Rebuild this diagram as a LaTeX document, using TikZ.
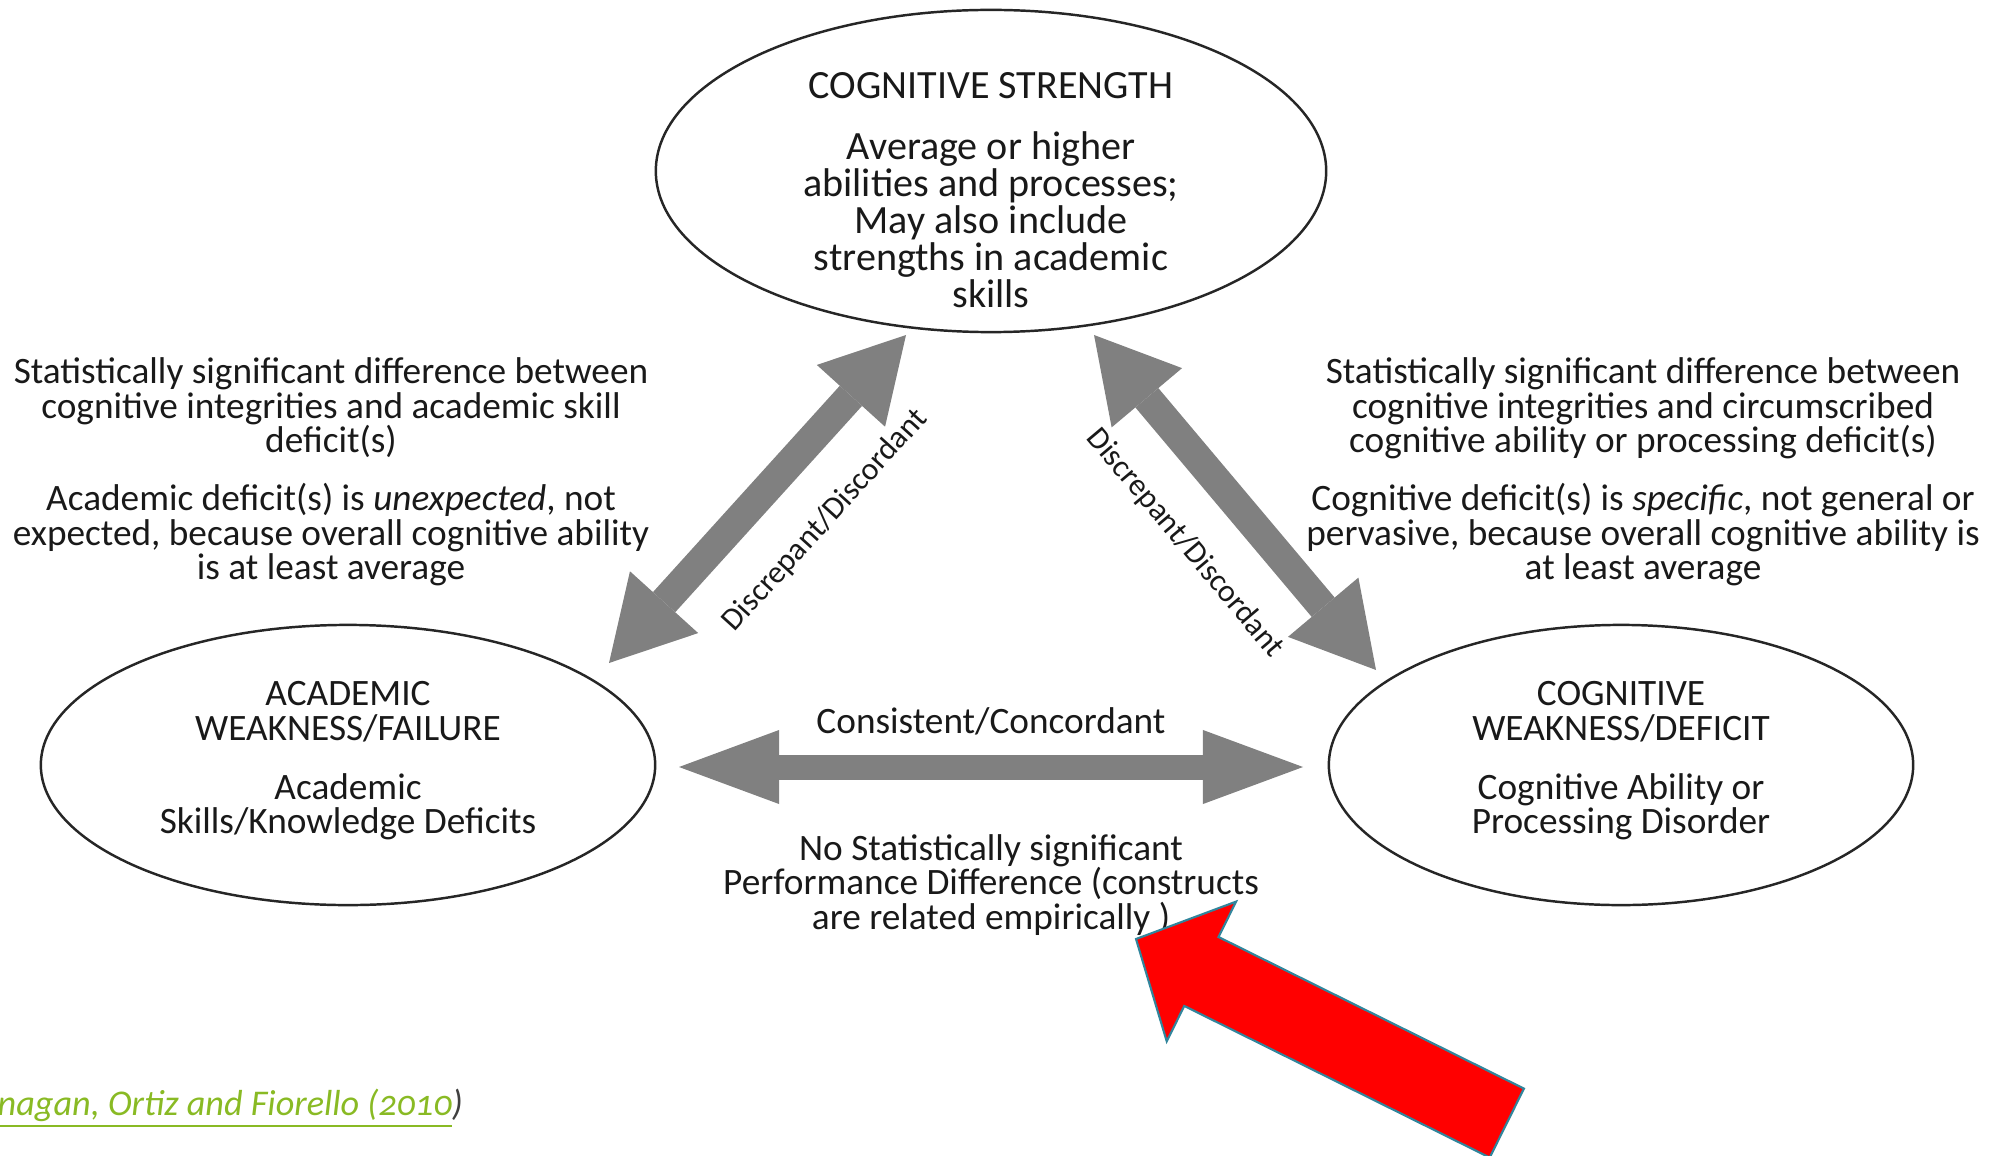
\documentclass[tikz,border=0pt]{standalone}
\usepackage{fontspec}
\setmainfont{Carlito}
\newfontfamily\citefont[Numbers=OldStyle]{Carlito}
\usetikzlibrary{positioning, arrows.meta, calc, shapes.geometric}
\setlength{\lineskiplimit}{-20pt}

\definecolor{bargray}{RGB}{128,128,128}
\definecolor{pointred}{RGB}{255,0,0}
\definecolor{pointedge}{RGB}{49,133,156}
\definecolor{citegreen}{RGB}{137,186,36}

\tikzset{
  bubble/.style={ellipse, draw=black!85, line width=0.7pt, inner sep=0pt},
  note/.style={align=center, inner sep=0pt, text=black!90,
    font=\fontsize{10.6}{9.8}\selectfont},
  diagbar/.style={draw=bargray, line width=0.30cm,
    arrows={Triangle[length=0.82cm, width=0.92cm, line width=0pt]-Triangle[length=0.82cm, width=0.92cm, line width=0pt]}},
  flatbar/.style={draw=bargray, line width=0.25cm,
    arrows={Triangle[length=1.0cm, width=0.74cm, line width=0pt]-Triangle[length=1.0cm, width=0.74cm, line width=0pt]}},
  barlabel/.style={note, sloped, below=0.36cm, font=\fontsize{9}{9.8}\selectfont},
}

\begin{document}
\begin{tikzpicture}[x=0.01cm, y=-0.01cm]
    \useasboundingbox (0,0) rectangle (1989,1155);

    % three ellipses
    \node[bubble, minimum width=6.70cm, minimum height=3.22cm] (strength) at (991,171) {};
    \node[bubble, minimum width=6.14cm, minimum height=2.80cm] (academic) at (348,765) {};
    \node[bubble, minimum width=5.84cm, minimum height=2.80cm] (weakness) at (1621,765) {};

    \node[note, font=\fontsize{11.4}{10.5}\selectfont] (strengthtxt) at ([yshift=-0.19cm]strength.center)
        {COGNITIVE STRENGTH\\[7pt]Average or higher\\abilities and processes;\\May also include\\strengths in academic\\skills};
    \node[note] (academictxt) at ([yshift=0.04cm]academic.center)
        {ACADEMIC\\WEAKNESS/FAILURE\\[7pt]Academic\\Skills/Knowledge Deficits};
    \node[note] (weaknesstxt) at ([yshift=0.04cm]weakness.center)
        {COGNITIVE\\WEAKNESS/DEFICIT\\[7pt]Cognitive Ability or\\Processing Disorder};

    % side notes
    \node[note] (leftnote) at (331,472)
        {Statistically significant difference between\\cognitive integrities and academic skill\\deficit(s)\\[6.7pt]
         Academic deficit(s) is \textit{unexpected}, not\\expected, because overall cognitive ability\\is at least average};
    \node[note] (rightnote) at (1643,472)
        {Statistically significant difference between\\cognitive integrities and circumscribed\\cognitive ability or processing deficit(s)\\[6.7pt]
         Cognitive deficit(s) is \textit{specific}, not general or\\pervasive, because overall cognitive ability is\\at least average};

    % arrow ends
    \coordinate (lup) at (906,335);
    \coordinate (llow) at (609,663);
    \coordinate (rup) at (1094,335);
    \coordinate (rlow) at (1376,670);
    \coordinate (hleft) at (679,767);
    \coordinate (hright) at (1303,767);

    \draw[diagbar] (llow) -- (lup) node[barlabel, pos=0.567] (leftbar) {Discrepant/Discordant};
    \draw[diagbar] (rup) -- (rlow) node[barlabel, pos=0.497] (rightbar) {Discrepant/Discordant};
    \draw[flatbar] (hleft) -- (hright)
        node[note, midway, above=0.19cm] (flatbar) {Consistent/Concordant}
        node[note, midway, below=0.55cm] (flatnote) {No Statistically significant\\Performance Difference (constructs\\are related empirically )};

    % red pointer
    \begin{scope}[shift={(1136,939)}, rotate=-26.4]
        \filldraw[fill=pointred, draw=pointedge, line width=0.6pt]
            (0,0) -- (73,-78) -- (73,-38.5) -- (414,-38.5) -- (414,38.5) -- (73,38.5) -- (73,78) -- cycle;
    \end{scope}

    % source line
    \node[anchor=base west, inner sep=0pt, font=\fontsize{10.3}{12}\selectfont\citefont\itshape] (cite) at (-3,1115)
        {\textcolor{citegreen}{\underline{nagan, Ortiz and Fiorello (2010}}\textcolor{black!75}{)}};
\end{tikzpicture}
\end{document}
